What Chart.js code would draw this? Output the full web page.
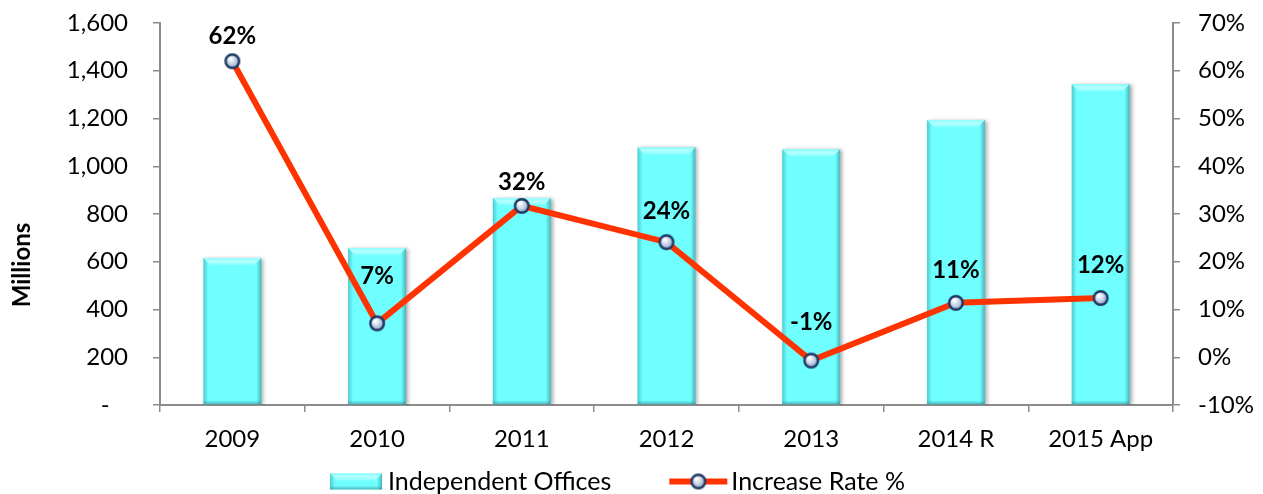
<!DOCTYPE html>
<html><head><meta charset="utf-8">
<script src="https://cdn.jsdelivr.net/npm/chart.js@4/dist/chart.umd.min.js"></script>
<style>html,body{margin:0;padding:0;background:#fff;}#wrap{width:1263px;height:494px;}</style>
</head><body><div id="wrap"><canvas id="c" width="1263" height="494"></canvas></div>
<script>
const categories = ['2009', '2010', '2011', '2012', '2013', '2014 R', '2015 App'];
const officeValues = [616, 658, 867, 1079, 1071, 1194, 1343];
const increaseRates = [62.0, 7.1, 31.7, 24.1, -0.7, 11.4, 12.4];
const leftTicks = [0, 200, 400, 600, 800, 1000, 1200, 1400, 1600];
const rightTicks = [-10, 0, 10, 20, 30, 40, 50, 60, 70];
const seriesNames = ['Independent Offices', 'Increase Rate %'];
const axisTitle = 'Millions';

const FONT = 'Lato, "Open Sans", sans-serif';
const AXIS = '#8c8c8c';
const LINE = '#FF3300';
const labelLift = [25, 47, 24, 31, 38, 33, 33];

function makeMarker() {
  const c = document.createElement('canvas');
  c.width = 20; c.height = 20;
  const g = c.getContext('2d');
  const rg = g.createRadialGradient(8, 7, 1, 10, 10, 8);
  rg.addColorStop(0, '#ffffff');
  rg.addColorStop(0.45, '#c9d6e8');
  rg.addColorStop(1, '#6f8cb3');
  g.beginPath(); g.arc(10, 10, 6.8, 0, Math.PI * 2);
  g.fillStyle = rg; g.fill();
  g.lineWidth = 2.4; g.strokeStyle = '#1F3864'; g.stroke();
  return c;
}
const marker = makeMarker();

function drawBevelBar(ctx, left, top, right, bottom) {
  const w = right - left, b = Math.min(7, w / 4);
  ctx.save();
  let gl = ctx.createLinearGradient(left, 0, left + 5, 0);
  gl.addColorStop(0, 'rgba(40,140,150,0.45)'); gl.addColorStop(1, 'rgba(40,140,150,0)');
  ctx.fillStyle = gl; ctx.fillRect(left, top, 5, bottom - top);
  let gr = ctx.createLinearGradient(right - 5, 0, right, 0);
  gr.addColorStop(0, 'rgba(40,120,130,0)'); gr.addColorStop(1, 'rgba(40,120,130,0.55)');
  ctx.fillStyle = gr; ctx.fillRect(right - 5, top, 5, bottom - top);
  let gb = ctx.createLinearGradient(0, bottom - 4, 0, bottom);
  gb.addColorStop(0, 'rgba(40,120,130,0)'); gb.addColorStop(1, 'rgba(40,120,130,0.5)');
  ctx.fillStyle = gb; ctx.fillRect(left, bottom - 4, w, 4);
  ctx.beginPath();
  ctx.moveTo(left, top); ctx.lineTo(right, top);
  ctx.lineTo(right - b, top + b); ctx.lineTo(left + b, top + b); ctx.closePath();
  let gt = ctx.createLinearGradient(0, top, 0, top + b);
  gt.addColorStop(0, '#8ffcfc'); gt.addColorStop(0.5, '#b5ffff'); gt.addColorStop(1, '#86ffff');
  ctx.fillStyle = gt; ctx.fill();
  ctx.restore();
}

const decor = {
  id: 'decor',
  beforeDatasetDraw(chart, args) {
    if (args.meta.type === 'bar') {
      const ctx = chart.ctx;
      ctx.save();
      ctx.shadowColor = 'rgba(0,0,0,0.35)';
      ctx.shadowBlur = 4; ctx.shadowOffsetX = 2; ctx.shadowOffsetY = 1;
    }
  },
  afterDatasetDraw(chart, args) {
    if (args.meta.type === 'bar') {
      const ctx = chart.ctx;
      ctx.restore();
      args.meta.data.forEach(el => {
        drawBevelBar(ctx, el.x - el.width / 2, el.y, el.x + el.width / 2, el.base);
      });
    }
  },
  afterDatasetsDraw(chart) {
    const ctx = chart.ctx;
    const idx = chart.data.datasets.findIndex(d => d.type === 'line');
    const meta = chart.getDatasetMeta(idx);
    ctx.save();
    ctx.font = 'bold 24px ' + FONT;
    ctx.fillStyle = '#000';
    ctx.textAlign = 'center'; ctx.textBaseline = 'middle';
    meta.data.forEach((pt, i) => {
      const v = chart.data.datasets[idx].data[i];
      ctx.fillText(Math.round(v) + '%', pt.x, pt.y - labelLift[i]);
    });
    ctx.restore();
  },
  afterDraw(chart) {
    const ctx = chart.ctx;
    ctx.save();
    ctx.font = 'bold 24px ' + FONT;
    ctx.fillStyle = '#000';
    ctx.translate(22, 265); ctx.rotate(-Math.PI / 2);
    ctx.textAlign = 'center'; ctx.textBaseline = 'middle';
    ctx.fillText(axisTitle, 0, 0);
    ctx.restore();
    ctx.save();
    ctx.font = '25px ' + FONT;
    ctx.textBaseline = 'middle';
    const t1 = ctx.measureText(seriesNames[0]).width;
    const t2 = ctx.measureText(seriesNames[1]).width;
    const total = 52 + 6 + t1 + 58 + 58 + 4 + t2;
    let x = 617.5 - total / 2;
    const cy = 481.5;
    ctx.fillStyle = '#6FFFFF';
    ctx.fillRect(x, cy - 8, 52, 16);
    drawBevelBar(ctx, x, cy - 8, x + 52, cy + 8);
    ctx.fillStyle = '#000';
    ctx.fillText(seriesNames[0], x + 58, cy);
    x += 58 + t1 + 58;
    ctx.strokeStyle = LINE; ctx.lineWidth = 6;
    ctx.beginPath(); ctx.moveTo(x, cy); ctx.lineTo(x + 58, cy); ctx.stroke();
    ctx.drawImage(marker, x + 29 - 10, cy - 10);
    ctx.fillText(seriesNames[1], x + 62, cy);
    ctx.restore();
  }
};

const tickGrid = { drawOnChartArea: false, drawTicks: true, tickLength: 7, color: AXIS, lineWidth: 1.5 };
const border = { color: AXIS, width: 2 };

new Chart(document.getElementById('c'), {
  data: {
    labels: categories,
    datasets: [
      {
        type: 'line', label: seriesNames[1], data: increaseRates, yAxisID: 'y1',
        borderColor: LINE, backgroundColor: LINE, borderWidth: 6, tension: 0,
        pointStyle: marker, pointRadius: 8, pointHoverRadius: 8, order: 0
      },
      {
        type: 'bar', label: seriesNames[0], data: officeValues, yAxisID: 'y',
        backgroundColor: '#6FFFFF', borderWidth: 0,
        barPercentage: 0.4, categoryPercentage: 1, order: 1
      }
    ]
  },
  options: {
    responsive: false,
    animation: false,
    layout: { padding: { top: 23, left: 0, right: 0, bottom: 0 } },
    plugins: { legend: { display: false }, tooltip: { enabled: false } },
    scales: {
      x: {
        type: 'category', offset: true,
        grid: Object.assign({}, tickGrid, { offset: true }),
        border: border,
        ticks: { font: { family: FONT, size: 24 }, color: '#000', padding: 13, maxRotation: 0, autoSkip: false },
        afterFit: s => { s.height = 89; s.paddingLeft = 0; s.paddingRight = 0; }
      },
      y: {
        position: 'left', min: 0, max: 1600,
        grid: tickGrid, border: border,
        afterBuildTicks: s => { s.ticks = leftTicks.map(v => ({ value: v })); },
        ticks: {
          font: { family: FONT, size: 24 }, color: '#000', padding: 25,
          callback: v => v === 0 ? '-   ' : v.toLocaleString('en-US')
        },
        afterFit: s => { s.width = 160; s.paddingTop = 0; s.paddingBottom = 0; }
      },
      y1: {
        position: 'right', min: -10, max: 70,
        grid: tickGrid, border: border,
        afterBuildTicks: s => { s.ticks = rightTicks.map(v => ({ value: v })); },
        ticks: { font: { family: FONT, size: 24 }, color: '#000', padding: 18, callback: v => v + '%' },
        afterFit: s => { s.width = 90; s.paddingTop = 0; s.paddingBottom = 0; }
      }
    }
  },
  plugins: [decor]
});
</script>
</body></html>
